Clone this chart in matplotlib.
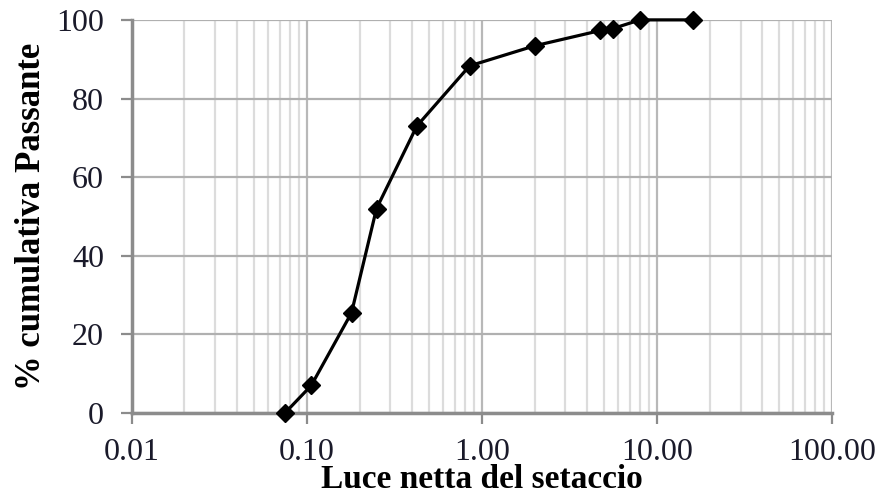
import matplotlib.pyplot as plt
from matplotlib.ticker import FixedLocator, LogLocator, NullFormatter

plt.rcParams['font.family'] = ['Liberation Serif', 'DejaVu Serif']

# Granulometria: apertura setaccio (mm) e % cumulativa passante
aperture = [0.075, 0.106, 0.18, 0.25, 0.425, 0.85, 2.0, 4.75, 5.6, 8.0, 16.0]
passante = [0.0, 7.0, 25.5, 52.0, 73.0, 88.3, 93.4, 97.3, 97.8, 100.0, 100.0]

x_ticks = [0.01, 0.1, 1, 10, 100]
x_labels = ['0.01', '0.10', '1.00', '10.00', '100.00']
y_ticks = [0, 20, 40, 60, 80, 100]

fig = plt.figure(figsize=(8.9, 4.97), dpi=100)
ax = fig.add_axes([0.148, 0.169, 0.787, 0.791])

ax.set_xscale('log')
ax.set_xlim(0.01, 100)
ax.set_ylim(0, 100)

ax.xaxis.set_major_locator(FixedLocator(x_ticks))
ax.set_xticklabels(x_labels)
ax.xaxis.set_minor_locator(LogLocator(base=10, subs=range(2, 10)))
ax.xaxis.set_minor_formatter(NullFormatter())
ax.set_yticks(y_ticks)

ax.grid(which='major', axis='x', color='#b8b8b8', lw=1.6)
ax.grid(which='minor', axis='x', color='#dcdcdc', lw=1.6)
ax.grid(which='major', axis='y', color='#b0b0b0', lw=1.6)
ax.set_axisbelow(True)

for s in ['top', 'right']:
    ax.spines[s].set_visible(False)
for s in ['left', 'bottom']:
    ax.spines[s].set_color('#8c8c8c')
    ax.spines[s].set_linewidth(2.5)

ax.tick_params(which='major', length=8, width=1.6, color='#8c8c8c',
               labelsize=23, labelcolor='#1a1a2a')
ax.tick_params(axis='y', pad=12)
ax.tick_params(axis='x', pad=10)
ax.tick_params(which='minor', length=0)

ax.plot(aperture, passante, color='black', lw=2.3, marker='D',
        markersize=9.5, clip_on=False, zorder=5)

# etichetta asse x ancorata in basso, a filo del bordo
ax.set_xlabel('Luce netta del setaccio', fontsize=24, fontweight='bold',
              va='bottom')
ax.xaxis.set_label_coords(0.5, -0.209)
ax.set_ylabel('% cumulativa Passante', fontsize=25, fontweight='bold',
              labelpad=6)

fig.savefig('out.png', dpi=100)
